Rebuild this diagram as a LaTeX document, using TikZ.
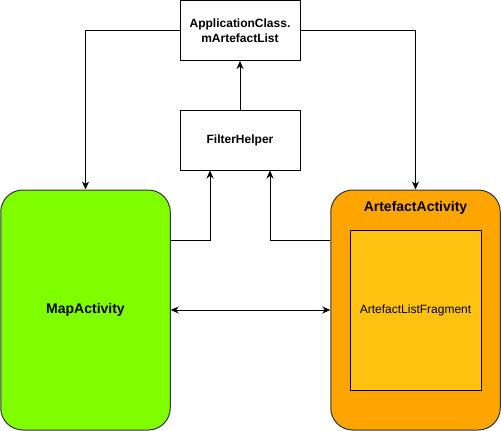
\documentclass[tikz,border=0pt]{standalone}
\usepackage{fontspec}
\setmainfont{Liberation Sans}
\usetikzlibrary{arrows.meta}
\definecolor{mapgreen}{HTML}{80FF00}
\definecolor{actorange}{HTML}{FFA500}
\definecolor{fragyellow}{HTML}{FFC20E}
\begin{document}
\begin{tikzpicture}[x=1pt,y=-1pt,
  box/.style={draw=black,line width=1pt,fill=white,minimum width=120pt,minimum height=60pt,inner sep=0pt,font=\fontsize{12}{14.5}\selectfont\bfseries,align=center},
  activity/.style={draw=black!80,line width=1pt,rounded corners=22pt,inner sep=0pt,minimum width=169.5pt,minimum height=240pt},
  biglbl/.style={font=\fontsize{14}{16}\selectfont\bfseries},
  conn/.style={line width=1pt,-{Stealth[length=8pt,width=7pt,inset=2.5pt]}},
  biconn/.style={line width=1pt,{Stealth[length=8pt,width=7pt,inset=2.5pt]}-{Stealth[length=8pt,width=7pt,inset=2.5pt]}}]
\useasboundingbox (0,0) rectangle (501,431);
\node[box] (app) at (240,30.5) {ApplicationClass.\\mArtefactList};
\node[box] (filter) at (240,140) {FilterHelper};
\node[activity,fill=mapgreen] (map) at (85.5,310) {};
\node[biglbl] (maplbl) at (85.5,310) {MapActivity};
\node[activity,fill=actorange] (art) at (415.5,310) {};
\node[biglbl] (artlbl) at (415.5,208) {ArtefactActivity};
\node[draw=black,line width=1pt,fill=fragyellow,minimum width=131pt,minimum height=160pt,inner sep=0pt,font=\fontsize{12}{14}\selectfont] (frag) at (415.5,310) {ArtefactListFragment};
\coordinate (mapout) at (map.east |- 0,240);
\coordinate (artout) at (art.west |- 0,240);
\draw[conn] (filter.north) -- (app.south);
\draw[conn] (mapout) -| (filter.south -| 210,0);
\draw[conn] (artout) -| (filter.south -| 270,0);
\draw[conn] (app.west) -| (map.north);
\draw[conn] (app.east) -| (art.north);
\draw[biconn] (map.east) -- (art.west);
\end{tikzpicture}
\end{document}
